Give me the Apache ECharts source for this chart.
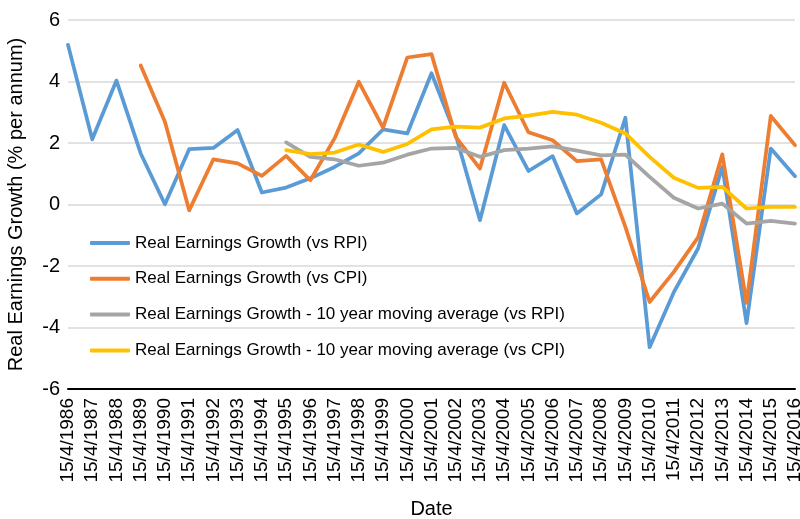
<!DOCTYPE html>
<html>
<head>
<meta charset="utf-8">
<script src="https://cdn.jsdelivr.net/npm/echarts@6/dist/echarts.min.js"></script>
<style>html,body{margin:0;padding:0;background:#fff;}#c{width:800px;height:519px;}</style>
</head>
<body>
<div id="c"></div>
<script>
const years = [];
for (let y = 1986; y <= 2016; y++) years.push(y);
const categories = years.map(y => '15/4/' + y);

const rpiGrowth = [5.19, 2.12, 4.03, 1.66, 0.01, 1.80, 1.84, 2.42, 0.39, 0.55,
  0.85, 1.22, 1.66, 2.44, 2.31, 4.27, 2.26, -0.51, 2.58, 1.09,
  1.57, -0.29, 0.33, 2.82, -4.64, -2.85, -1.43, 1.22, -3.86, 1.82, 0.92];
const cpiGrowth = [null, null, null, 4.52, 2.69, -0.19, 1.47, 1.34, 0.93, 1.58,
  0.79, 2.15, 3.99, 2.50, 4.78, 4.89, 2.20, 1.17, 3.96, 2.35,
  2.09, 1.41, 1.47, -0.73, -3.17, -2.19, -1.07, 1.63, -3.20, 2.88, 1.93];
const rpiMA = [null, null, null, null, null, null, null, null, null, 2.02,
  1.55, 1.47, 1.26, 1.36, 1.62, 1.82, 1.84, 1.55, 1.77, 1.82,
  1.89, 1.75, 1.60, 1.62, 0.90, 0.22, -0.13, 0.03, -0.62, -0.53, -0.62];
const cpiMA = [null, null, null, null, null, null, null, null, null, 1.77,
  1.64, 1.69, 1.95, 1.71, 1.97, 2.44, 2.53, 2.50, 2.80, 2.89,
  3.01, 2.92, 2.66, 2.31, 1.55, 0.87, 0.54, 0.57, -0.13, -0.08, -0.08];

const seriesNames = [
  'Real Earnings Growth (vs RPI)',
  'Real Earnings Growth (vs CPI)',
  'Real Earnings Growth - 10 year moving average (vs RPI)',
  'Real Earnings Growth - 10 year moving average (vs CPI)'
];
const colors = ['#5b9bd5', '#ed7d31', '#a5a5a5', '#ffc000'];
const seriesData = [rpiGrowth, cpiGrowth, rpiMA, cpiMA];

const font = '"Liberation Sans", Arial, Helvetica, sans-serif';
const chart = echarts.init(document.getElementById('c'), null, {renderer: 'canvas'});
chart.setOption({
  animation: false,
  backgroundColor: '#fff',
  color: colors,
  grid: {left: 68, right: 5, top: 20, bottom: 130, containLabel: false, outerBoundsMode: 'none'},
  legend: {
    orient: 'vertical',
    left: 85,
    top: 229,
    itemWidth: 40,
    itemHeight: 4,
    itemGap: 17.8,
    icon: 'roundRect',
    textStyle: {fontFamily: font, fontSize: 17, color: '#000', lineHeight: 18},
    data: seriesNames
  },
  xAxis: {
    type: 'category',
    data: categories,
    boundaryGap: false,
    name: 'Date',
    nameLocation: 'middle',
    nameGap: 110,
    nameTextStyle: {fontFamily: font, fontSize: 20, color: '#000'},
    axisLine: {onZero: false, lineStyle: {color: '#000', width: 2}},
    axisTick: {show: false},
    axisLabel: {interval: 0, rotate: 90, margin: 9, fontFamily: font, fontSize: 19, color: '#000'},
    splitLine: {show: false}
  },
  yAxis: {
    type: 'value',
    min: -6,
    max: 6,
    interval: 2,
    name: 'Real Earnings Growth (% per annum)',
    nameLocation: 'middle',
    nameGap: 42,
    nameRotate: 90,
    nameTextStyle: {fontFamily: font, fontSize: 20, color: '#000'},
    axisLine: {show: false},
    axisTick: {show: false},
    axisLabel: {margin: 8, fontFamily: font, fontSize: 20, color: '#000'},
    splitLine: {show: true, lineStyle: {color: '#d9d9d9', width: 1.5}}
  },
  series: seriesData.map((d, i) => ({
    name: seriesNames[i],
    type: 'line',
    data: d,
    showSymbol: false,
    symbol: 'none',
    connectNulls: false,
    lineStyle: {width: 3.75, color: colors[i], cap: 'round', join: 'round'},
    itemStyle: {color: colors[i]}
  }))
});
</script>
</body>
</html>
